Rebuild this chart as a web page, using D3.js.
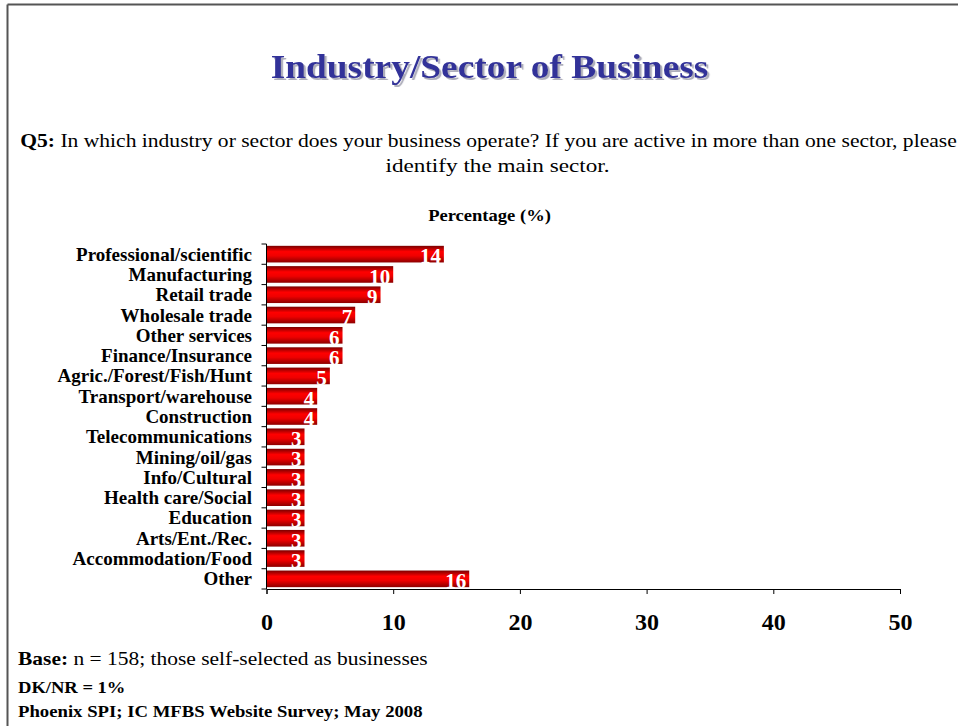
<!DOCTYPE html>
<html>
<head>
<meta charset="utf-8">
<script src="https://cdn.jsdelivr.net/npm/d3@7"></script>
<style>
  html, body { margin: 0; padding: 0; background: #fff; }
  svg { display: block; font-family: "Liberation Serif", "Times New Roman", serif; }
</style>
</head>
<body>
<svg id="chart" width="958" height="726"></svg>
<script>
// Survey answers: share of respondents per industry/sector
const categories = [
  "Professional/scientific", "Manufacturing", "Retail trade", "Wholesale trade",
  "Other services", "Finance/Insurance", "Agric./Forest/Fish/Hunt",
  "Transport/warehouse", "Construction", "Telecommunications", "Mining/oil/gas",
  "Info/Cultural", "Health care/Social", "Education", "Arts/Ent./Rec.",
  "Accommodation/Food", "Other"
];
const values = [14, 10, 9, 7, 6, 6, 5, 4, 4, 3, 3, 3, 3, 3, 3, 3, 16];
const xTicks = [0, 10, 20, 30, 40, 50];

const svg = d3.select("#chart");
const defs = svg.append("defs");

// soft shadow for the heading
const shadow = defs.append("filter").attr("id", "titleShadow")
  .attr("x", "-5%").attr("y", "-20%").attr("width", "110%").attr("height", "140%");
shadow.append("feDropShadow").attr("dx", 2).attr("dy", 2).attr("stdDeviation", 0.6)
  .attr("flood-color", "#9a9aaa").attr("flood-opacity", 0.8);

// vertical shading of the bars
const grad = defs.append("linearGradient").attr("id", "barShade")
  .attr("x1", 0).attr("x2", 0).attr("y1", 0).attr("y2", 1);
grad.append("stop").attr("offset", "0%").attr("stop-color", "#7a0000");
grad.append("stop").attr("offset", "35%").attr("stop-color", "#ff0000");
grad.append("stop").attr("offset", "60%").attr("stop-color", "#f00000");
grad.append("stop").attr("offset", "100%").attr("stop-color", "#8c0000");

// text helper: places a text at (x, y) with an optional horizontal stretch
function label(parent, x, y, size, opts = {}) {
  return parent.append("text")
    .attr("transform", `translate(${x},${y}) scale(${opts.sx || 1},1)`)
    .attr("text-anchor", opts.anchor || "start")
    .attr("font-size", size)
    .attr("font-weight", opts.bold ? "bold" : "normal")
    .attr("fill", opts.fill || "#000");
}

// page frame (top and left rules)
svg.append("line").attr("x1", 7.5).attr("x2", 958).attr("y1", 4.5).attr("y2", 4.5)
  .attr("stroke", "#555").attr("stroke-width", 2);
svg.append("line").attr("x1", 7.5).attr("x2", 7.5).attr("y1", 4.5).attr("y2", 726)
  .attr("stroke", "#555").attr("stroke-width", 2);

// title
label(svg, 489.5, 78, 34, { anchor: "middle", bold: true, fill: "#333399", sx: 1.1 })
  .attr("filter", "url(#titleShadow)")
  .text("Industry/Sector of Business");

// question
const q = label(svg, 488.5, 147, 19, { anchor: "middle", sx: 1.135 });
q.append("tspan").attr("font-weight", "bold").text("Q5:");
q.append("tspan").text(" In which industry or sector does your business operate? If you are active in more than one sector, please");
label(svg, 497.5, 172, 19, { anchor: "middle", sx: 1.22 }).text("identify the main sector.");

label(svg, 489.5, 221, 16, { anchor: "middle", bold: true, sx: 1.16 }).text("Percentage (%)");

// scales
const x = d3.scaleLinear().domain([0, 50]).range([266.5, 900]);
const y = d3.scaleBand().domain(categories).range([244, 589])
  .paddingInner(0.18).paddingOuter(0.09);

const rows = categories.map((c, i) => ({ c, v: values[i] }));

svg.append("g").selectAll("rect").data(rows).enter().append("rect")
  .attr("x", x(0)).attr("y", d => y(d.c))
  .attr("width", d => x(d.v) - x(0)).attr("height", y.bandwidth())
  .attr("fill", "url(#barShade)");

// value labels inside bar ends
svg.append("g").selectAll("text").data(rows).enter().append("text")
  .attr("x", d => x(d.v) - 3).attr("y", d => y(d.c) + y.bandwidth() + 1)
  .attr("text-anchor", "end").attr("font-size", 21).attr("font-weight", "bold")
  .attr("fill", "#fff").text(d => d.v);

// category axis with ticks on band boundaries
const yAxisG = svg.append("g");
yAxisG.append("line").attr("x1", x(0)).attr("x2", x(0)).attr("y1", 244).attr("y2", 589)
  .attr("stroke", "#000");
const boundaries = categories.map(c => y(c) - y.step() * y.paddingInner() / 2);
boundaries[0] = 244;
boundaries.push(589);
yAxisG.selectAll("line.tk").data(boundaries).enter().append("line")
  .attr("class", "tk").attr("x1", x(0) - 5).attr("x2", x(0))
  .attr("y1", d => d).attr("y2", d => d).attr("stroke", "#000");
yAxisG.selectAll("text").data(categories).enter().append("text")
  .attr("x", 252).attr("y", c => y(c) + y.bandwidth() / 2 + 6.5)
  .attr("text-anchor", "end").attr("font-size", 19).attr("font-weight", "bold")
  .text(c => c);

// value axis
const xAxis = d3.axisBottom(x).tickValues(xTicks).tickSize(5).tickPadding(19);
const xg = svg.append("g").attr("transform", "translate(0,589)").call(xAxis);
xg.select(".domain").attr("stroke", "#000");
xg.selectAll(".tick line").attr("stroke", "#000");
xg.selectAll(".tick text").attr("font-family", "Liberation Serif, Times New Roman, serif")
  .attr("font-size", 24).attr("font-weight", "bold").attr("fill", "#000");

// footnotes
const base = label(svg, 18, 665, 19, { sx: 1.13 });
base.append("tspan").attr("font-weight", "bold").text("Base:");
base.append("tspan").text(" n = 158; those self-selected as businesses");
label(svg, 18, 693, 16, { bold: true, sx: 1.16 }).text("DK/NR = 1%");
label(svg, 18, 717, 16, { bold: true, sx: 1.17 }).text("Phoenix SPI; IC MFBS Website Survey; May 2008");
</script>
</body>
</html>
